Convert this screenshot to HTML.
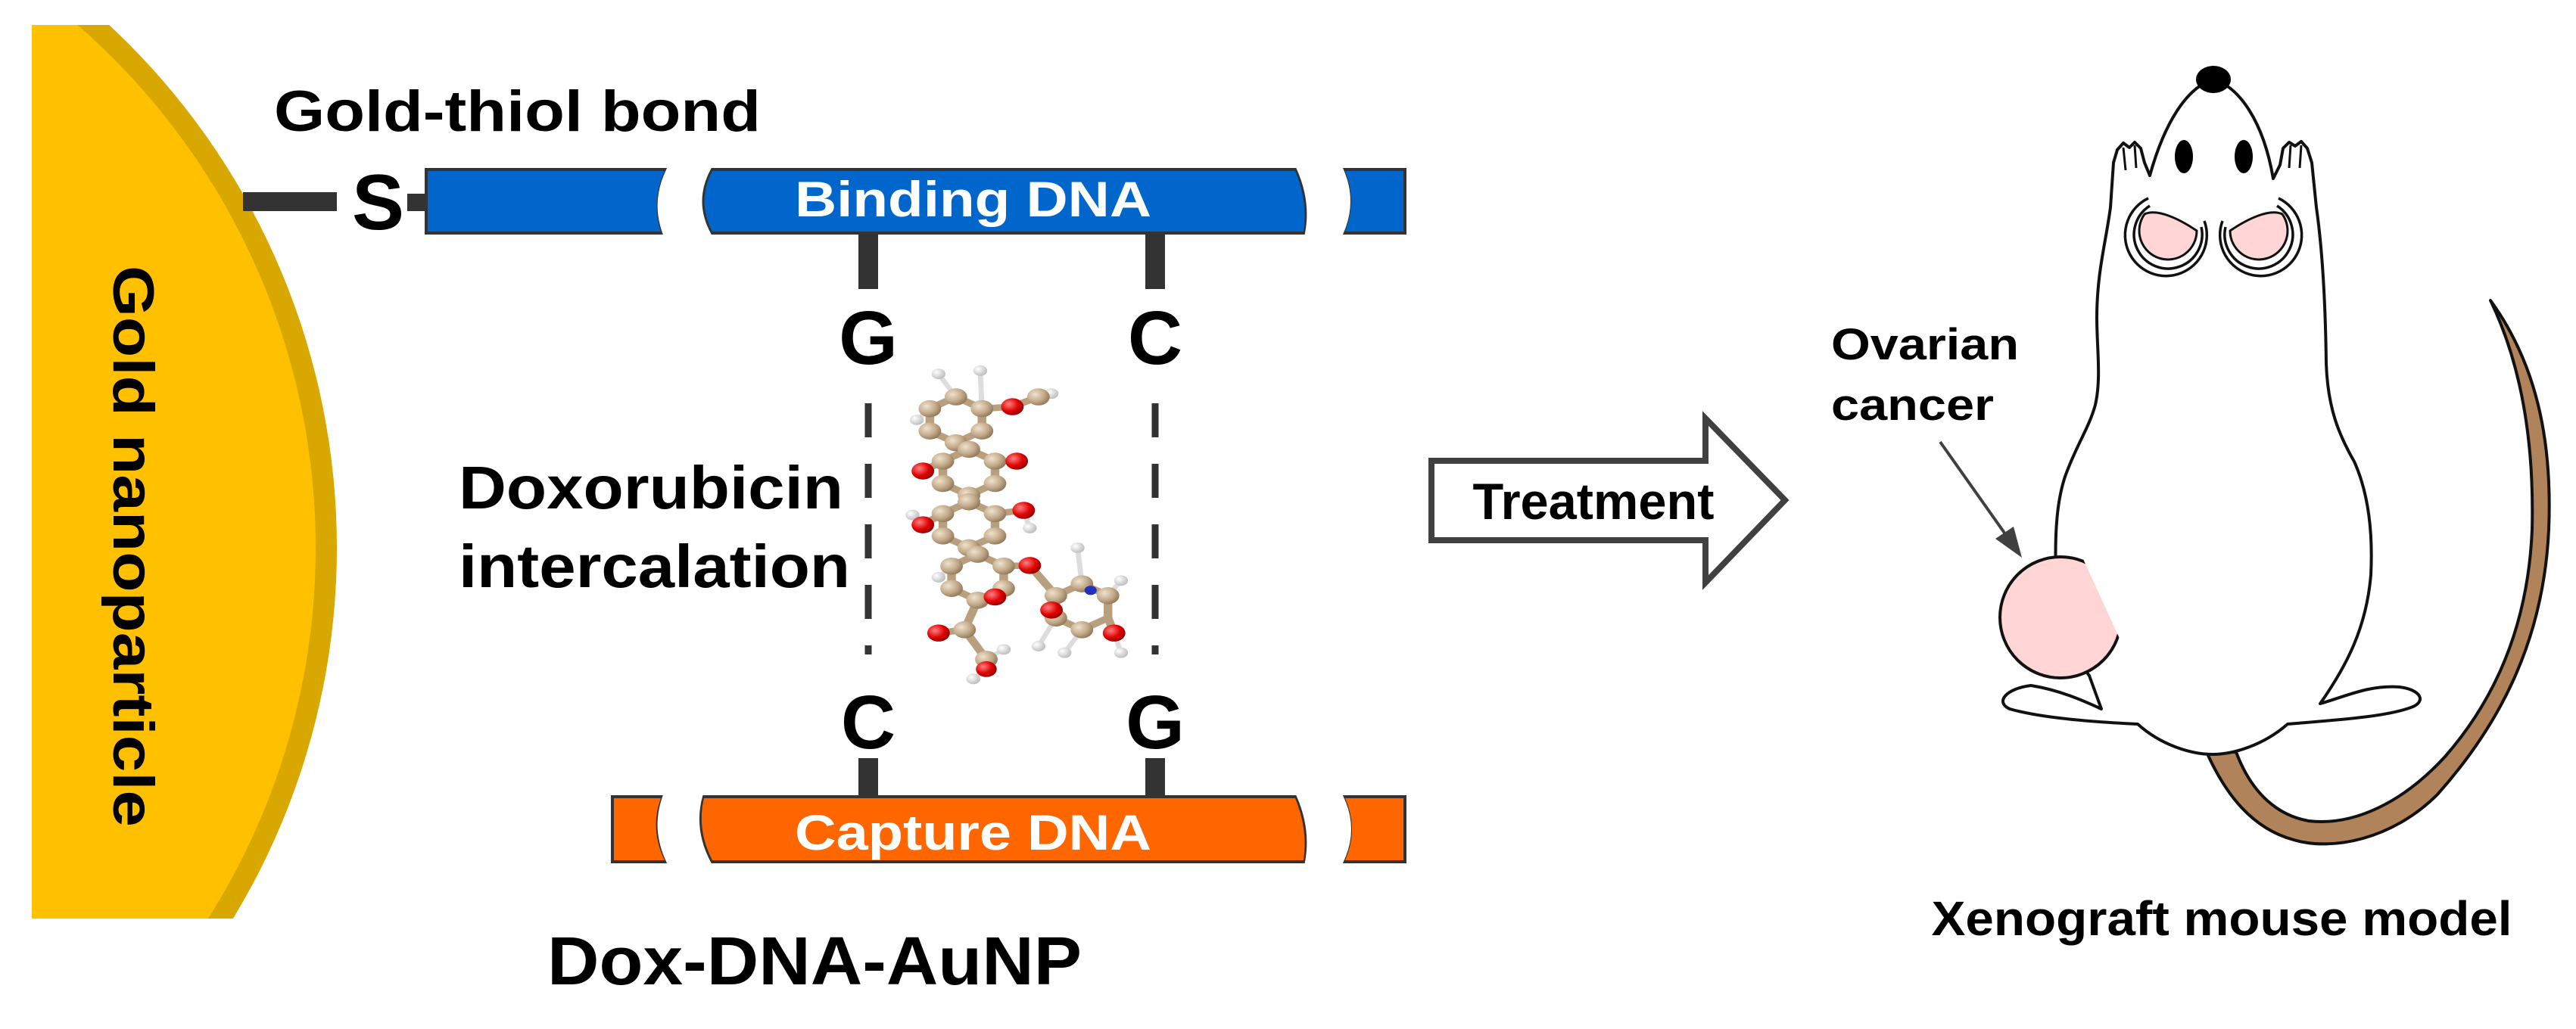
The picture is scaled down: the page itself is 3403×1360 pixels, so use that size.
<!DOCTYPE html>
<html><head><meta charset="utf-8"><style>
html,body{margin:0;padding:0;background:#fff;width:3403px;height:1360px;overflow:hidden;}
svg{display:block;}
text{font-family:"Liberation Sans",Arial,sans-serif;font-weight:bold;}
</style></head><body>
<svg width="3403" height="1360" viewBox="0 0 3403 1360" xmlns="http://www.w3.org/2000/svg">
<defs>
<clipPath id="gc"><rect x="42" y="33" width="500" height="1181"/></clipPath>
<radialGradient id="tan" cx="0.35" cy="0.35" r="0.7"><stop offset="0" stop-color="#efe2cc"/><stop offset="0.6" stop-color="#c2a98a"/><stop offset="1" stop-color="#8e7657"/></radialGradient>
<radialGradient id="red" cx="0.35" cy="0.35" r="0.7"><stop offset="0" stop-color="#ff8080"/><stop offset="0.6" stop-color="#e00000"/><stop offset="1" stop-color="#900000"/></radialGradient>
<radialGradient id="wh" cx="0.35" cy="0.35" r="0.7"><stop offset="0" stop-color="#fff"/><stop offset="1" stop-color="#bbb"/></radialGradient>
</defs>

<g clip-path="url(#gc)">
<circle cx="-499" cy="724" r="944" fill="#D8A800"/>
<circle cx="-499" cy="724" r="916" fill="#FFC000"/>
</g>
<text transform="translate(150,722) rotate(90)" x="0" y="0" font-size="76" text-anchor="middle" textLength="742" lengthAdjust="spacingAndGlyphs">Gold nanoparticle</text>

<text x="362" y="173" font-size="76" textLength="643" lengthAdjust="spacingAndGlyphs">Gold-thiol bond</text>
<rect x="321" y="254" width="124" height="25" fill="#333"/>
<text x="465" y="303" font-size="104" textLength="69" lengthAdjust="spacingAndGlyphs">S</text>
<rect x="538" y="256" width="26" height="23" fill="#333"/>

<g fill="#0066CC" stroke="#333" stroke-width="4">
<path d="M563,224 L878,224 Q858,266 873,308 L563,308 Z"/>
<path d="M941,224 L1711,224 Q1730,266 1722,308 L941,308 Q918,266 941,224 Z"/>
<path d="M1777,224 L1856,224 L1856,308 L1777,308 Q1795,266 1777,224 Z"/>
</g>
<g fill="#0066CC">
<path d="M878,226 Q860,266 873,306 L860,306 L860,226Z"/>
<path d="M941,226 Q920,266 941,306 L955,306 L955,226Z"/>
<path d="M1711,226 Q1728,266 1722,306 L1700,306 L1700,226Z"/>
<path d="M1777,226 Q1793,266 1777,306 L1790,306 L1790,226Z"/>
</g>
<text x="1050" y="286" font-size="66" fill="#fff" textLength="471" lengthAdjust="spacingAndGlyphs">Binding DNA</text>

<g fill="#FF6600" stroke="#333" stroke-width="4">
<path d="M809,1053 L873,1053 Q858,1096 878,1139 L809,1139 Z"/>
<path d="M930,1053 L1711,1053 Q1730,1096 1722,1139 L941,1139 Q918,1096 930,1053 Z"/>
<path d="M1777,1053 L1856,1053 L1856,1139 L1777,1139 Q1797,1096 1777,1053 Z"/>
</g>
<g fill="#FF6600">
<path d="M873,1055 Q858,1096 878,1137 L860,1137 L860,1055Z"/>
<path d="M930,1055 Q920,1096 941,1137 L955,1137 L955,1055Z"/>
<path d="M1711,1055 Q1728,1096 1722,1137 L1700,1137 L1700,1055Z"/>
<path d="M1777,1055 Q1795,1096 1777,1137 L1790,1137 L1790,1055Z"/>
</g>
<text x="1050" y="1123" font-size="66" fill="#fff" textLength="471" lengthAdjust="spacingAndGlyphs">Capture DNA</text>

<g fill="#333">
<rect x="1134" y="308" width="26" height="74"/>
<rect x="1513" y="308" width="26" height="74"/>
<rect x="1134" y="1002" width="26" height="52"/>
<rect x="1513" y="1002" width="26" height="52"/>
</g>
<g font-size="100" text-anchor="middle">
<text x="1147" y="481">G</text>
<text x="1526" y="481">C</text>
<text x="1147" y="989">C</text>
<text x="1526" y="989">G</text>
</g>
<g stroke="#333" stroke-width="9" stroke-dasharray="45,35">
<line x1="1147" y1="533" x2="1147" y2="865"/>
<line x1="1526" y1="533" x2="1526" y2="865"/>
</g>

<text x="606" y="672" font-size="80" textLength="508" lengthAdjust="spacingAndGlyphs">Doxorubicin</text>
<text x="606" y="776" font-size="80" textLength="517" lengthAdjust="spacingAndGlyphs">intercalation</text>
<text x="723" y="1301" font-size="90" textLength="706" lengthAdjust="spacingAndGlyphs">Dox-DNA-AuNP</text>

<g transform="scale(1.148,0.867)">
<g stroke="#b8a07e" stroke-width="10" fill="none">
<polygon points="1100,605 1130,623 1130,657 1100,675 1070,657 1070,623"/>
<polygon points="1115,685 1145,703 1145,737 1115,755 1085,737 1085,703"/>
<polygon points="1115,765 1145,783 1145,817 1115,835 1085,817 1085,783"/>
<polygon points="1125,845 1155,863 1155,897 1125,915 1095,897 1095,863"/>
<polygon points="1245,890 1275,908 1275,942 1245,960 1215,942 1215,908"/>
<polyline points="1130,623 1165,620 1195,605"/>
<line x1="1085" y1="703" x2="1062" y2="718"/>
<line x1="1145" y1="703" x2="1170" y2="703"/>
<line x1="1145" y1="783" x2="1178" y2="778"/>
<line x1="1085" y1="783" x2="1062" y2="800"/>
<polyline points="1155,863 1185,862 1215,908"/>
<polyline points="1125,915 1110,960 1080,965"/>
<polyline points="1110,960 1135,1005 1135,1020"/>
<line x1="1275" y1="942" x2="1282" y2="965"/>
<g stroke="#ddd" stroke-width="6">
<line x1="1100" y1="605" x2="1080" y2="570"/><line x1="1130" y1="623" x2="1128" y2="565"/>
<line x1="1070" y1="623" x2="1055" y2="640"/><line x1="1195" y1="605" x2="1210" y2="600"/>
<line x1="1062" y1="800" x2="1050" y2="785"/><line x1="1178" y1="778" x2="1185" y2="805"/>
<line x1="1245" y1="890" x2="1240" y2="835"/><line x1="1275" y1="908" x2="1290" y2="885"/>
<line x1="1095" y1="863" x2="1080" y2="880"/><line x1="1215" y1="942" x2="1195" y2="985"/>
<line x1="1245" y1="960" x2="1225" y2="995"/><line x1="1282" y1="965" x2="1290" y2="995"/>
<line x1="1135" y1="1005" x2="1155" y2="990"/><line x1="1135" y1="1020" x2="1120" y2="1035"/>
</g>
</g>
<g fill="url(#wh)">
<circle cx="1080" cy="570" r="8"/><circle cx="1128" cy="565" r="8"/><circle cx="1055" cy="640" r="8"/><circle cx="1210" cy="600" r="8"/>
<circle cx="1050" cy="785" r="8"/><circle cx="1185" cy="805" r="8"/><circle cx="1240" cy="835" r="8"/><circle cx="1290" cy="885" r="8"/>
<circle cx="1080" cy="880" r="8"/><circle cx="1195" cy="985" r="8"/><circle cx="1225" cy="995" r="8"/><circle cx="1290" cy="995" r="8"/>
<circle cx="1155" cy="990" r="8"/><circle cx="1120" cy="1035" r="8"/>
</g>
<g fill="url(#tan)">
<circle cx="1100" cy="605" r="13"/><circle cx="1130" cy="623" r="13"/><circle cx="1130" cy="657" r="13"/><circle cx="1100" cy="675" r="13"/><circle cx="1070" cy="657" r="13"/><circle cx="1070" cy="623" r="13"/>
<circle cx="1115" cy="685" r="13"/><circle cx="1145" cy="703" r="13"/><circle cx="1145" cy="737" r="13"/><circle cx="1115" cy="755" r="13"/><circle cx="1085" cy="737" r="13"/><circle cx="1085" cy="703" r="13"/>
<circle cx="1115" cy="765" r="13"/><circle cx="1145" cy="783" r="13"/><circle cx="1145" cy="817" r="13"/><circle cx="1115" cy="835" r="13"/><circle cx="1085" cy="817" r="13"/><circle cx="1085" cy="783" r="13"/>
<circle cx="1125" cy="845" r="13"/><circle cx="1155" cy="863" r="13"/><circle cx="1155" cy="897" r="13"/><circle cx="1125" cy="915" r="13"/><circle cx="1095" cy="897" r="13"/><circle cx="1095" cy="863" r="13"/>
<circle cx="1245" cy="890" r="13"/><circle cx="1275" cy="908" r="13"/><circle cx="1245" cy="960" r="13"/><circle cx="1215" cy="942" r="13"/><circle cx="1215" cy="908" r="13"/>
<circle cx="1195" cy="605" r="13"/><circle cx="1110" cy="960" r="13"/><circle cx="1135" cy="1005" r="13"/>
</g>
<g fill="url(#red)">
<circle cx="1165" cy="620" r="13"/><circle cx="1062" cy="718" r="13"/><circle cx="1170" cy="703" r="13"/><circle cx="1178" cy="778" r="13"/>
<circle cx="1062" cy="800" r="13"/><circle cx="1185" cy="862" r="13"/><circle cx="1145" cy="910" r="13"/><circle cx="1080" cy="965" r="13"/>
<circle cx="1210" cy="930" r="13"/><circle cx="1282" cy="965" r="13"/><circle cx="1135" cy="1020" r="12"/>
</g>
<circle cx="1255" cy="900" r="7" fill="#2030c0"/>
</g>

<polygon points="1891,609 2253,609 2253,553 2358,661 2253,770 2253,714 1891,714" fill="#fff" stroke="#404040" stroke-width="8"/>
<text x="2105" y="686" font-size="68" text-anchor="middle" textLength="319" lengthAdjust="spacingAndGlyphs">Treatment</text>

<path d="M3290,397 C3350,480 3372,580 3367,700 C3360,850 3300,960 3220,1050 C3160,1110 3080,1125 3030,1110 C2975,1095 2940,1050 2915,994 L2954,994 C2975,1050 3010,1078 3050,1085 C3110,1092 3175,1060 3230,1000 C3300,920 3340,820 3345,700 C3348,580 3330,480 3290,397 Z" fill="#B0835A" stroke="#111" stroke-width="4" stroke-linejoin="round"/>

<path d="M2840,232 C2860,160 2890,115 2924,105 C2958,115 2990,160 3003,236 L3012,218 L3016,196 L3024,188 L3032,193 L3040,187 L3048,196 L3054,215 L3060,274 C3068,330 3072,400 3073,480 C3075,540 3090,575 3110,610 C3128,650 3135,700 3132,760 C3126,830 3100,880 3065,930 C3100,920 3130,905 3170,908 C3200,912 3205,928 3185,935 C3150,948 3080,952 3022,957 C2990,985 2950,997 2923,997 C2895,997 2855,985 2824,957 C2780,955 2700,950 2655,937 C2635,928 2650,910 2683,906 C2720,912 2750,925 2776,937 L2760,893 C2735,860 2718,820 2716,760 C2714,700 2718,660 2728,630 C2742,590 2760,565 2768,535 C2776,500 2770,460 2770,420 C2770,360 2782,320 2788,274 L2792,215 L2797,198 L2805,189 L2813,195 L2820,188 L2828,196 L2833,215 Z" fill="#fff" stroke="#111" stroke-width="4" stroke-linejoin="round"/>
<g stroke="#111" stroke-width="3" fill="none">
<path d="M2805,195 L2808,225 M2820,192 L2822,222 M3040,192 L3038,222 M3026,192 L3024,222"/>
</g>
<ellipse cx="2924" cy="105" rx="23" ry="18" fill="#000"/>
<ellipse cx="2885" cy="207" rx="12" ry="22" fill="#000"/>
<ellipse cx="2964" cy="207" rx="12" ry="22" fill="#000"/>
<g stroke="#111" stroke-width="3.5" fill="none">
<path d="M2838,262 A54,54 0 1 0 2912,292"/>
<path d="M2840,272 A45,45 0 1 0 2908,300"/>
<path d="M3010,262 A54,54 0 1 1 2936,292"/>
<path d="M3008,272 A45,45 0 1 1 2940,300"/>
</g>
<path d="M2833,283 C2850,275 2880,290 2902,305 A38,38 0 1 1 2833,283 Z" fill="#FFD5D5" stroke="#111" stroke-width="3"/>
<path d="M3015,283 C2998,275 2968,290 2946,305 A38,38 0 1 0 3015,283 Z" fill="#FFD5D5" stroke="#111" stroke-width="3"/>

<circle cx="2722" cy="816" r="80" fill="#FFD5D5" stroke="#111" stroke-width="4"/>
<polygon points="2747,728 2830,728 2830,880 2801,846" fill="#fff"/>

<text x="2419" y="475" font-size="58" textLength="248" lengthAdjust="spacingAndGlyphs">Ovarian</text>
<text x="2419" y="555" font-size="58" textLength="215" lengthAdjust="spacingAndGlyphs">cancer</text>
<line x1="2563" y1="584" x2="2652" y2="710" stroke="#404040" stroke-width="4"/>
<polygon points="2671,737 2636,712 2660,696" fill="#404040"/>

<text x="2935" y="1236" font-size="64" text-anchor="middle" textLength="767" lengthAdjust="spacingAndGlyphs">Xenograft mouse model</text>
</svg>
</body></html>
